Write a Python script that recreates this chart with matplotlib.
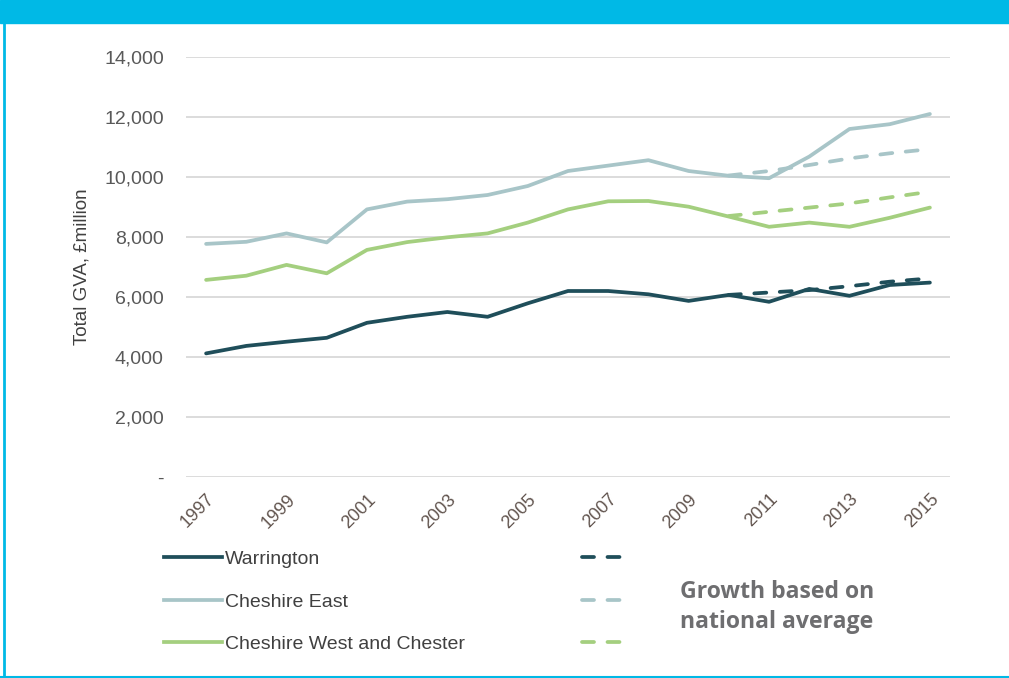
import matplotlib
matplotlib.use('Agg')
import matplotlib.pyplot as plt
from matplotlib.lines import Line2D
from matplotlib.patches import Rectangle
import numpy as np

years = list(range(1997, 2016))

warrington = [4120, 4370, 4510, 4640, 5140, 5340, 5500, 5340, 5790, 6200,
              6200, 6090, 5870, 6070, 5840, 6270, 6040, 6400, 6480]
cheshire_east = [7770, 7840, 8120, 7820, 8920, 9180, 9260, 9400, 9700, 10200,
                 10380, 10560, 10200, 10040, 9960, 10680, 11600, 11760, 12100]
cwac = [6570, 6710, 7070, 6790, 7570, 7830, 7990, 8120, 8480, 8920,
        9190, 9200, 9010, 8680, 8340, 8480, 8340, 8640, 8980]

# growth based on national average, 2010-2015
proj_years = list(range(2010, 2016))
warrington_proj = [6070, 6150, 6230, 6360, 6510, 6620]
cheshire_east_proj = [10050, 10200, 10400, 10620, 10790, 10930]
cwac_proj = [8700, 8840, 8980, 9120, 9320, 9510]

names = ['Warrington', 'Cheshire East', 'Cheshire West and Chester']
colors = ['#1f4e5a', '#a8c5c8', '#a4cf7f']
cyan = '#00b9e6'

plt.rcParams['font.family'] = ['Liberation Sans', 'DejaVu Sans']

fig = plt.figure(figsize=(10.09, 6.78), dpi=100)
ax = fig.add_axes([186 / 1009, 1 - 477 / 678, 764 / 1009, 420 / 678])

x = np.arange(len(years))
px = np.array([years.index(y) for y in proj_years])
lw = 2.7
dash = (3.2, 3.6)
for vals, proj, c in zip([warrington, cheshire_east, cwac],
                         [warrington_proj, cheshire_east_proj, cwac_proj], colors):
    ax.plot(x, vals, color=c, lw=lw, solid_capstyle='round', zorder=3)
    ax.plot(px, proj, color=c, lw=lw, dashes=dash, dash_capstyle='round', zorder=4)

ax.set_xlim(-0.5, len(years) - 0.5)
ax.set_ylim(0, 14000)
ax.set_yticks(range(0, 14001, 2000))
ax.set_yticklabels(['-'] + [f'{v:,}' for v in range(2000, 14001, 2000)])
ax.set_xticks(x[::2])
ax.set_xticklabels([str(y) for y in years[::2]], rotation=45, ha='right',
                   rotation_mode='anchor')
ax.tick_params(axis='y', length=0, pad=16, labelsize=14, labelcolor='#595959')
ax.tick_params(axis='x', length=0, pad=10, labelsize=13, labelcolor='#62554f')
ax.grid(axis='y', color='#d9d9d9', lw=1.3)
ax.set_axisbelow(True)
for s in ax.spines.values():
    s.set_visible(False)
ax.set_ylabel('Total GVA, £million', fontsize=13.5, color='#404040')
ax.yaxis.set_label_coords(-0.125, 0.5)

# legend
solid = [Line2D([], [], color=c, lw=lw) for c in colors]
dashed = [Line2D([], [], color=c, lw=lw, dashes=dash, dash_capstyle='round')
          for c in colors]
leg1 = fig.legend(solid, names, loc='upper left', bbox_to_anchor=(146 / 1009, 1 - 533 / 678),
                  frameon=False, fontsize=14, handlelength=3.03, handletextpad=0.15,
                  labelspacing=1.28, labelcolor='#404040')
leg2 = fig.legend(dashed, ['', '', ''], loc='upper left',
                  bbox_to_anchor=(564 / 1009, 1 - 533 / 678),
                  frameon=False, fontsize=14, handlelength=2.5, handletextpad=0,
                  labelspacing=1.28)
fig.text(680 / 1009, 1 - 607 / 678, 'Growth based on\nnational average',
         fontsize=16.6, fontweight='bold', family='Open Sans', color='#6e6e70',
         va='center', ha='left', linespacing=1.36)

# frame decorations
fig.patches.append(Rectangle((0, 1 - 23 / 678), 1, 23 / 678, transform=fig.transFigure,
                             color=cyan, zorder=0))
fig.lines.append(Line2D([4 / 1009, 4 / 1009], [0, 1 - 23 / 678], transform=fig.transFigure,
                        color=cyan, lw=2))
fig.lines.append(Line2D([0, 1], [1 / 678, 1 / 678], transform=fig.transFigure,
                        color=cyan, lw=1.5))

fig.savefig('out.png', dpi=100)
